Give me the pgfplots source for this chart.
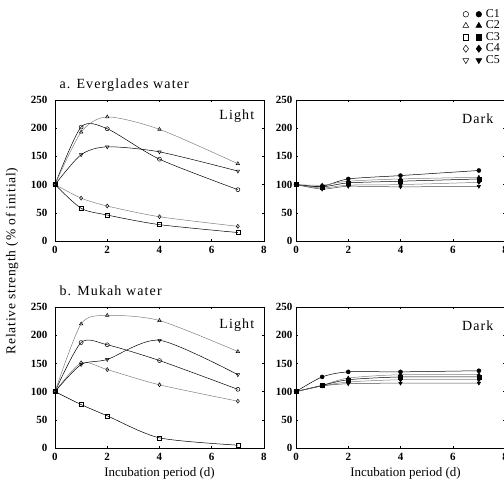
\documentclass[border=0pt]{standalone}
\usepackage{fontspec}
\setmainfont{Liberation Serif}
\newfontfamily\spaced[LetterSpace=8]{Liberation Serif}
\newfontfamily\yspaced[LetterSpace=6]{Liberation Serif}
\usepackage{pgfplots}
\pgfplotsset{compat=1.18}

\pgfplotsset{
 panel/.style={
  scale only axis, width=209pt, height=141pt,
  xmin=0, xmax=8, ymin=0, ymax=250,
  xtick={0,2,4,6,8}, ytick={0,50,100,150,200,250},
  tick align=inside, major tick length=2pt,
  tick style={black, line width=0.5pt},
  tick label style={font=\fontsize{11}{11}\selectfont\bfseries},
  /pgf/number format/assume math mode=true,
  axis line style={line width=0.6pt},
  xticklabel style={yshift=-2pt},
  every axis plot/.append style={line width=0.5pt, mark size=2pt, smooth, tension=0.45},
  clip=false,
 },
 leftpanel/.style={panel, yticklabel style={xshift=-4pt}},
 rightpanel/.style={panel, yticklabel style={xshift=0pt}},
 xlab/.style={xlabel={Incubation period (d)},
  xlabel style={font=\fontsize{13}{13}\selectfont, at={(axis description cs:0.5,0)}, anchor=base, yshift=-29pt}},
 oC1/.style={black, mark=o, mark options={solid,fill=white}},
 oC2/.style={gray, mark=triangle, mark options={solid,fill=white,draw=black}},
 oC3/.style={black, mark=square, mark options={solid,fill=white}},
 oC4/.style={gray, mark=diamond, mark options={solid,fill=white,draw=black}},
 oC5/.style={black, mark=triangle, mark options={solid,rotate=180,fill=white}},
 fC1/.style={black, mark=*, mark options={solid}},
 fC2/.style={gray, mark=triangle*, mark options={solid,fill=black,draw=black}},
 fC3/.style={black, mark=square*, mark options={solid}},
 fC4/.style={gray, mark=diamond*, mark options={solid,fill=black,draw=black}},
 fC5/.style={black!70, mark=triangle*, mark options={solid,rotate=180,fill=black,draw=black}},
}
\tikzset{
 paneltitle/.style={font=\fontsize{14}{14}\selectfont\spaced, anchor=base west},
 corner/.style={font=\fontsize{14}{14}\selectfont\spaced},
}

\begin{document}
\begin{tikzpicture}
\useasboundingbox (0pt,0pt) rectangle (504pt,482pt);

% ---------- a. Everglades, Light ----------
\begin{axis}[leftpanel, at={(55pt,241pt)}, anchor=south west]
\addplot+[oC1] coordinates {(0,100) (1,202) (2,199) (4,145) (7,91)};
\addplot+[oC2] coordinates {(0,100) (1,193) (2,220) (4,198) (7,137)};
\addplot+[oC3] coordinates {(0,100) (1,58) (2,46) (4,29) (7,15)};
\addplot+[oC4] coordinates {(0,100) (1,76) (2,62) (4,43) (7,26)};
\addplot+[oC5] coordinates {(0,100) (1,153) (2,167) (4,158) (7,124)};
\node[corner] at (axis description cs:0.87,0.885) {Light};
\node[paneltitle] at (axis description cs:0.005,1.085) {a. Everglades water};
\end{axis}

% ---------- a. Everglades, Dark ----------
\begin{axis}[rightpanel, at={(296pt,241pt)}, anchor=south west,
  legend style={at={(0.976,1.645)}, anchor=north east, draw=none, fill=none,
    font=\fontsize{12}{12}\selectfont, inner sep=0pt, row sep=1.5pt, column sep=4pt,
    nodes={inner sep=0pt, text height=8pt, text depth=2pt}},
  legend cell align=left,
  legend entries={C1,C2,C3,C4,C5}]
\addlegendimage{legend image code/.code={\draw[black,mark=o,mark size=2.8pt] plot coordinates {(0pt,0pt)}; \draw[black,mark=*,mark size=2.8pt] plot coordinates {(13pt,0pt)};}}
\addlegendimage{legend image code/.code={\draw[black,mark=triangle,mark size=3.4pt] plot coordinates {(0pt,0pt)}; \draw[black,mark=triangle*,mark size=3.4pt] plot coordinates {(13pt,0pt)};}}
\addlegendimage{legend image code/.code={\draw[black,mark=square,mark size=2.8pt] plot coordinates {(0pt,0pt)}; \draw[black,mark=square*,mark size=2.8pt] plot coordinates {(13pt,0pt)};}}
\addlegendimage{legend image code/.code={\draw[black,mark=diamond,mark size=3.6pt] plot coordinates {(0pt,0pt)}; \draw[black,mark=diamond*,mark size=3.6pt] plot coordinates {(13pt,0pt)};}}
\addlegendimage{legend image code/.code={\draw[black,mark=triangle,mark size=3.4pt,mark options={rotate=180}] plot coordinates {(0pt,0pt)}; \draw[black,mark=triangle*,mark size=3.4pt,mark options={rotate=180}] plot coordinates {(13pt,0pt)};}}
\addplot+[fC1, forget plot] coordinates {(0,100) (1,97) (2,110) (4,116) (7,125)};
\addplot+[fC2, forget plot] coordinates {(0,100) (1,99) (2,106) (4,110) (7,113)};
\addplot+[fC3, forget plot] coordinates {(0,100) (1,96) (2,103) (4,106) (7,110)};
\addplot+[fC4, forget plot] coordinates {(0,100) (1,94) (2,99) (4,100) (7,104)};
\addplot+[fC5, forget plot] coordinates {(0,100) (1,92) (2,97) (4,96) (7,97)};
\node[corner] at (axis description cs:0.87,0.87) {Dark};
\end{axis}

% ---------- b. Mukah, Light ----------
\begin{axis}[leftpanel, xlab, at={(55pt,34pt)}, anchor=south west]
\addplot+[oC1] coordinates {(0,100) (1,187) (2,183) (4,155) (7,104)};
\addplot+[oC2] coordinates {(0,100) (1,220) (2,235) (4,226) (7,171)};
\addplot+[oC3] coordinates {(0,100) (1,77) (2,57) (4,18) (7,5)};
\addplot+[oC4] coordinates {(0,100) (1,151) (2,139) (4,112) (7,83)};
\addplot+[oC5] coordinates {(0,100) (1,148) (2,157) (4,191) (7,130)};
\node[corner] at (axis description cs:0.87,0.87) {Light};
\node[paneltitle] at (axis description cs:0.005,1.085) {b. Mukah water};
\end{axis}

% ---------- b. Mukah, Dark ----------
\begin{axis}[rightpanel, xlab, at={(296pt,34pt)}, anchor=south west,
  xlabel style={xshift=5pt}]
\addplot+[fC1] coordinates {(0,100) (1,126) (2,135) (4,135) (7,137)};
\addplot+[fC2] coordinates {(0,100) (1,111) (2,124) (4,130) (7,130)};
\addplot+[fC3] coordinates {(0,100) (1,111) (2,121) (4,126) (7,126)};
\addplot+[fC4] coordinates {(0,100) (1,110) (2,117) (4,121) (7,121)};
\addplot+[fC5] coordinates {(0,100) (1,110) (2,114) (4,115) (7,115)};
\node[corner] at (axis description cs:0.87,0.87) {Dark};
\end{axis}

\node[rotate=90, font=\fontsize{13.5}{13.5}\selectfont\yspaced] at (12pt,221pt) {Relative strength (\% of initial)};
\end{tikzpicture}
\end{document}
